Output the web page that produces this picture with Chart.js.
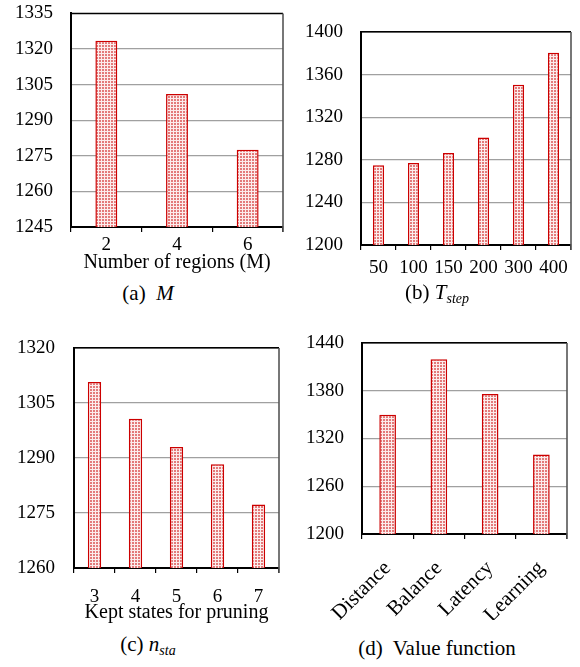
<!DOCTYPE html>
<html>
<head>
<meta charset="utf-8">
<script src="https://cdn.jsdelivr.net/npm/chart.js@4"></script>
<style>
	body { margin: 0; background: #fff; }
	#page { position: relative; width: 580px; height: 667px; font-family: 'Liberation Serif', 'DejaVu Serif', serif; }
	.panel { position: absolute; }
	.caption { position: absolute; transform: translate( -50%, -50% ); font-size: 21px; white-space: nowrap; color: #000; }
	.caption i { font-style: italic; }
	.caption sub { font-size: 14px; vertical-align: -4px; }
</style>
</head>
<body>
<div id="page">
	<div class="panel" style="left:0;top:0;"><canvas id="chart-a" width="290" height="280"></canvas></div>
	<div class="panel" style="left:290px;top:0;"><canvas id="chart-b" width="290" height="280"></canvas></div>
	<div class="panel" style="left:0;top:320px;"><canvas id="chart-c" width="290" height="310"></canvas></div>
	<div class="panel" style="left:290px;top:320px;"><canvas id="chart-d" width="290" height="300"></canvas></div>
	<div class="caption" style="left:148px;top:293px;">(a)&nbsp; <i>M</i></div>
	<div class="caption" style="left:437px;top:293px;">(b) <i>T</i><sub><i>step</i></sub></div>
	<div class="caption" style="left:148px;top:645px;">(c) <i>n</i><sub><i>sta</i></sub></div>
	<div class="caption" style="left:437px;top:648px;">(d)&nbsp; Value function</div>
</div>
<script>
// data
const regionLabels = [ '2', '4', '6' ];
const regionValues = [ 1323.5, 1301, 1277.5 ];
const regionTicks = { min: 1245, max: 1335, step: 15 };

const stepLabels = [ '50', '100', '150', '200', '300', '400' ];
const stepValues = [ 1275, 1277, 1286.5, 1301, 1350.5, 1380.5 ];
const stepTicks = { min: 1200, max: 1400, step: 40 };

const staLabels = [ '3', '4', '5', '6', '7' ];
const staValues = [ 1310.7, 1300.7, 1293, 1288.3, 1277.3 ];
const staTicks = { min: 1260, max: 1320, step: 15 };

const valueFnLabels = [ 'Distance', 'Balance', 'Latency', 'Learning' ];
const valueFnValues = [ 1350, 1419.5, 1376, 1300 ];
const valueFnTicks = { min: 1200, max: 1440, step: 60 };

const FONT = "'Liberation Serif', 'DejaVu Serif', serif";

// small pink plaid like the printed bar fill
const makePattern = () => {
	const p = document.createElement( 'canvas' );
	p.width = 3;
	p.height = 3;
	const c = p.getContext( '2d' );
	c.fillStyle = '#fcecec';
	c.fillRect( 0, 0, 3, 3 );
	c.fillStyle = '#e37a7a';
	c.fillRect( 0, 0, 2, 2 );
	return document.getElementById( 'chart-a' ).getContext( '2d' ).createPattern( p, 'repeat' );
};
const barFill = makePattern();

// top edge black, right edge gray, like the original frame
const framePlugin = {
	id: 'frame',
	afterDatasetsDraw( chart ) {
		const { ctx, chartArea: a } = chart;
		ctx.save();
		ctx.strokeStyle = '#000';
		ctx.lineWidth = 1.2;
		ctx.beginPath();
		ctx.moveTo( a.left, a.top );
		ctx.lineTo( a.right, a.top );
		ctx.stroke();
		ctx.strokeStyle = '#555';
		ctx.lineWidth = 1.6;
		ctx.beginPath();
		ctx.moveTo( a.right, a.top );
		ctx.lineTo( a.right, a.bottom + 5 );
		ctx.stroke();
		ctx.restore();
	},
};

const makeChart = ( id, labels, values, ticks, opts ) => {
	const canvas = document.getElementById( id );
	return new Chart( canvas, {
		type: 'bar',
		data: {
			labels: labels,
			datasets: [
				{
					data: values,
					backgroundColor: barFill,
					borderColor: '#cc0000',
					borderWidth: 1.5,
					borderSkipped: 'bottom',
					categoryPercentage: 1,
					barPercentage: opts.barPct,
				},
			],
		},
		options: {
			responsive: false,
			devicePixelRatio: 1,
			animation: false,
			layout: {
				padding: { top: opts.top, right: opts.right, left: 0, bottom: 0 },
			},
			plugins: {
				legend: { display: false },
				tooltip: { enabled: false },
			},
			scales: {
				x: {
					afterFit: ( s ) => {
						s.height = opts.xHeight;
					},
					grid: {
						display: true,
						drawOnChartArea: false,
						drawTicks: true,
						tickLength: 5,
						color: '#000',
						lineWidth: 1.2,
					},
					border: { display: true, color: '#000', width: 2 },
					ticks: {
						color: '#000',
						font: { family: FONT, size: opts.xFont || 19 },
						padding: opts.xPad,
						maxRotation: opts.rot || 0,
						minRotation: opts.rot || 0,
						autoSkip: false,
					},
					title: {
						display: !! opts.xTitle,
						text: opts.xTitle || '',
						color: '#000',
						font: { family: FONT, size: 20 },
						padding: { top: 0, bottom: opts.titlePad || 0 },
					},
				},
				y: {
					min: ticks.min,
					max: ticks.max,
					afterFit: ( s ) => {
						s.width = opts.yWidth;
					},
					grid: {
						drawTicks: true,
						tickLength: opts.yPad - 2,
						tickColor: 'rgba(0,0,0,0)',
						color: ( ctx ) =>
							ctx.tick && ctx.tick.value === ticks.max ? '#000' : '#a0a0a0',
						lineWidth: 1.3,
					},
					border: { display: true, color: '#000', width: 2 },
					ticks: {
						stepSize: ticks.step,
						color: '#000',
						font: { family: FONT, size: 19 },
						padding: 2,
						callback: ( v ) => String( v ),
					},
				},
			},
		},
		plugins: [ framePlugin ],
	} );
};

makeChart( 'chart-a', regionLabels, regionValues, regionTicks, {
	barPct: 0.31, top: 12, right: 7, yWidth: 71, xHeight: 53, xPad: 2, yPad: 18,
	xTitle: 'Number of regions (M)', titlePad: 5,
} );
makeChart( 'chart-b', stepLabels, stepValues, stepTicks, {
	barPct: 0.32, top: 32, right: 9, yWidth: 71, xHeight: 35, xPad: 7, yPad: 18,
} );
makeChart( 'chart-c', staLabels, staValues, staTicks, {
	barPct: 0.325, top: 28, right: 11, yWidth: 74, xHeight: 62, xPad: 13, yPad: 19,
	xTitle: 'Kept states for pruning', titlePad: 5,
} );
makeChart( 'chart-d', valueFnLabels, valueFnValues, valueFnTicks, {
	barPct: 0.325, top: 23, right: 13, yWidth: 72, xHeight: 86, xPad: 17, yPad: 18, rot: 45, xFont: 21,
} );
</script>
</body>
</html>
